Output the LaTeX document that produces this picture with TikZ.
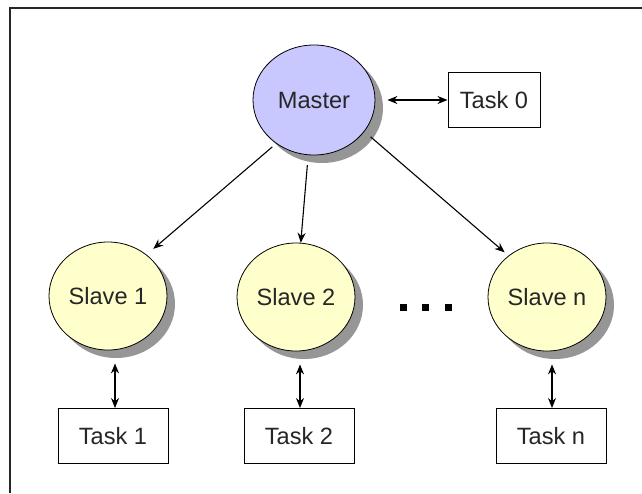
\documentclass[tikz,border=0pt]{standalone}
\usepackage{fontspec}
\setmainfont{Liberation Sans}
\usepackage{tikz}
\usetikzlibrary{shapes.geometric, arrows.meta, shadows}
\definecolor{masterblue}{RGB}{200,200,255}
\definecolor{slaveyellow}{RGB}{255,255,204}
\definecolor{shadowgray}{RGB}{150,150,150}
\tikzstyle{master} = [ellipse, minimum width=61pt, minimum height=55pt, inner sep=0pt, text centered, draw=black, fill=masterblue, drop shadow={shadow xshift=4pt, shadow yshift=-4pt, fill=shadowgray, opacity=1}]
\tikzstyle{slave} = [master, minimum width=59pt, minimum height=54pt, fill=slaveyellow]
\tikzstyle{task} = [rectangle, minimum width=55pt, minimum height=27.5pt, text centered, draw=black, fill=white, line width=0.5pt]
\tikzstyle{dotbox} = [rectangle, minimum size=3.5pt, inner sep=0pt, fill=black]
\tikzstyle{arrow} = [line width=0.55pt, -{Stealth[length=5pt,width=4pt]}]
\tikzstyle{bothway} = [line width=0.55pt, {Stealth[length=5pt,width=4pt]}-{Stealth[length=5pt,width=4pt]}]

\begin{document}
\begin{tikzpicture}[x=0.5pt, y=-0.5pt, font=\fontsize{11.8}{14}\selectfont, text=black!85]
    \useasboundingbox (0,0) rectangle (642,493);
    % Frame
    \draw[line width=1pt, black!85] (10,493) -- (10,8) -- (642,8);

    % Master and its task
    \node[master] (master) at (314,100) {Master};
    \node[task, minimum width=46pt] (task0) at (494,100) {Task 0};

    % Slaves
    \node[slave] (slave1) at (108,296) {Slave 1};
    \node[slave] (slave2) at (296,297) {Slave 2};
    \node[slave] (slaven) at (547,297) {Slave n};
    \foreach \x in {403,425,448}
        \node[dotbox] (dot\x) at (\x,307) {};

    % Tasks of the slaves
    \node[task] (task1) at (113,436) {Task 1};
    \node[task] (task2) at (299,436) {Task 2};
    \node[task] (taskn) at (551,436) {Task n};

    % Arrows
    \draw[bothway] ([xshift=6pt]master.east) -- (task0.west);
    \draw[arrow, shorten <=2.5pt, shorten >=4.4pt] (master.229) -- (slave1.47);
    \draw[arrow, shorten <=5pt] (master.264) -- (slave2.85);
    \draw[arrow, shorten <=4pt, shorten >=2.5pt] (master.328) -- (slaven.133);
    \draw[bothway] ([xshift=3.5pt, yshift=-6.5pt]slave1.south) -- ([xshift=1pt]task1.north);
    \draw[bothway] ([xshift=2pt, yshift=-6.5pt]slave2.south) -- ([xshift=0.5pt]task2.north);
    \draw[bothway] ([xshift=2.5pt, yshift=-6.5pt]slaven.south) -- ([xshift=0.5pt]taskn.north);
\end{tikzpicture}
\end{document}
